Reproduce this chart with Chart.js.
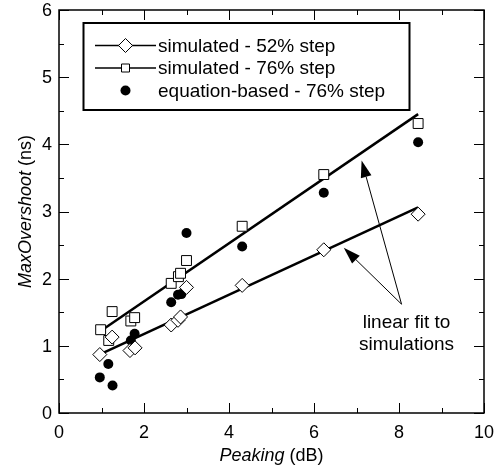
<!DOCTYPE html>
<html>
<head>
<meta charset="utf-8">
<script src="https://cdn.jsdelivr.net/npm/chart.js@4"></script>
<style>
    html, body { margin: 0; padding: 0; background: #fff; }
    #wrap { width: 494px; height: 473px; }
</style>
</head>
<body>
<div id="wrap"><canvas id="chart" width="494" height="473"></canvas></div>
<script>
// Datos
const peaking52 = [0.96, 1.25, 1.67, 1.79, 2.64, 2.80, 2.86, 3.00, 4.31, 6.23, 8.45];
const overshoot52 = [0.87, 1.13, 0.93, 0.97, 1.31, 1.38, 1.43, 1.87, 1.90, 2.43, 2.96];

const peaking76 = [0.98, 1.17, 1.25, 1.69, 1.78, 2.64, 2.81, 2.86, 3.00, 4.31, 6.23, 8.45];
const overshoot76 = [1.24, 1.08, 1.51, 1.37, 1.42, 1.93, 2.03, 2.08, 2.27, 2.78, 3.55, 4.31];

const peakingEq = [0.96, 1.16, 1.26, 1.69, 1.78, 2.64, 2.80, 2.88, 3.00, 4.31, 6.23, 8.45];
const overshootEq = [0.53, 0.73, 0.41, 1.08, 1.18, 1.65, 1.76, 1.77, 2.68, 2.48, 3.28, 4.03];

// Rectas de ajuste (extremos leidos)
const fit52X = [1.00, 8.45];
const fit52Y = [0.885, 3.06];
const fit76X = [0.98, 8.45];
const fit76Y = [1.22, 4.45];

const xTicks = [0, 2, 4, 6, 8, 10];
const yTicks = [0, 1, 2, 3, 4, 5, 6];

const legendLabels = ['simulated - 52% step', 'simulated - 76% step', 'equation-based - 76% step'];
const noteLines = ['linear fit to', 'simulations'];
const arrowTail = [8.06, 1.62];
const arrowHeads = [[7.12, 3.76], [6.70, 2.46]];

const FONT = '"Liberation Sans", Arial, sans-serif';

function toPoints(xs, ys) {
    return xs.map((x, i) => ({ x: x, y: ys[i] }));
}

// Dibuja texto con partes en cursiva
function drawParts(ctx, parts, x, y, size) {
    let total = 0;
    parts.forEach(p => {
        ctx.font = (p.italic ? 'italic ' : '') + size + 'px ' + FONT;
        p.w = ctx.measureText(p.text).width;
        total += p.w;
    });
    let cx = x - total / 2;
    ctx.textAlign = 'left';
    parts.forEach(p => {
        ctx.font = (p.italic ? 'italic ' : '') + size + 'px ' + FONT;
        ctx.fillText(p.text, cx, y);
        cx += p.w;
    });
}

function drawArrow(ctx, x0, y0, x1, y1) {
    const ang = Math.atan2(y1 - y0, x1 - x0);
    const len = 17, half = 5.5;
    const bx = x1 - Math.cos(ang) * len;
    const by = y1 - Math.sin(ang) * len;
    ctx.lineWidth = 1;
    ctx.beginPath();
    ctx.moveTo(x0, y0);
    ctx.lineTo(bx, by);
    ctx.stroke();
    ctx.beginPath();
    ctx.moveTo(x1, y1);
    ctx.lineTo(bx + Math.sin(ang) * half, by - Math.cos(ang) * half);
    ctx.lineTo(bx - Math.sin(ang) * half, by + Math.cos(ang) * half);
    ctx.closePath();
    ctx.fill();
}

const decoPlugin = {
    id: 'deco',
    afterDraw(chart) {
        const ctx = chart.ctx;
        const area = chart.chartArea;
        const xs = chart.scales.x;
        const ys = chart.scales.y;
        ctx.save();
        ctx.fillStyle = '#000';
        ctx.strokeStyle = '#000';

        // marco
        ctx.lineWidth = 1.5;
        ctx.strokeRect(area.left, area.top, area.right - area.left, area.bottom - area.top);

        // marcas hacia dentro
        ctx.lineWidth = 1;
        ctx.beginPath();
        for (let v = 0; v <= 10; v++) {
            const px = Math.round(xs.getPixelForValue(v)) + 0.5;
            const l = v % 2 === 0 ? 10 : 5;
            ctx.moveTo(px, area.bottom); ctx.lineTo(px, area.bottom - l);
            ctx.moveTo(px, area.top); ctx.lineTo(px, area.top + l);
        }
        for (let v = 0; v <= 6; v += 0.5) {
            const py = Math.round(ys.getPixelForValue(v)) + 0.5;
            const l = Number.isInteger(v) ? 10 : 5;
            ctx.moveTo(area.left, py); ctx.lineTo(area.left + l, py);
            ctx.moveTo(area.right, py); ctx.lineTo(area.right - l, py);
        }
        ctx.stroke();

        // etiquetas de los ejes
        ctx.font = '18px ' + FONT;
        ctx.textAlign = 'center';
        ctx.textBaseline = 'alphabetic';
        xTicks.forEach(v => ctx.fillText(String(v), xs.getPixelForValue(v), area.bottom + 25));
        ctx.textAlign = 'right';
        ctx.textBaseline = 'middle';
        yTicks.forEach(v => ctx.fillText(String(v), area.left - 7, ys.getPixelForValue(v) + 1));

        // titulos
        ctx.textBaseline = 'alphabetic';
        drawParts(ctx, [{ text: 'Peaking', italic: true }, { text: ' (dB)' }], (area.left + area.right) / 2, 461, 18);
        ctx.save();
        ctx.translate(31, (area.top + area.bottom) / 2);
        ctx.rotate(-Math.PI / 2);
        drawParts(ctx, [{ text: 'MaxOvershoot', italic: true }, { text: ' (ns)' }], 0, 0, 18);
        ctx.restore();

        // leyenda
        ctx.lineWidth = 2;
        ctx.strokeRect(83.5, 23, 326, 87);
        const rows = [45.5, 68, 90.5];
        ctx.font = '19px ' + FONT;
        ctx.textAlign = 'left';
        ctx.textBaseline = 'middle';
        rows.forEach((ry, i) => {
            if (i < 2) {
                ctx.lineWidth = 1.5;
                ctx.beginPath();
                ctx.moveTo(95, ry); ctx.lineTo(156, ry);
                ctx.stroke();
            }
            ctx.lineWidth = 1;
            ctx.beginPath();
            if (i === 0) {
                ctx.moveTo(118.5, ry); ctx.lineTo(125.5, ry - 7); ctx.lineTo(132.5, ry); ctx.lineTo(125.5, ry + 7);
                ctx.closePath();
                ctx.fillStyle = '#fff'; ctx.fill(); ctx.stroke();
            } else if (i === 1) {
                ctx.rect(121.5, ry - 4, 8, 8);
                ctx.fillStyle = '#fff'; ctx.fill(); ctx.stroke();
            } else {
                ctx.arc(125.5, ry, 5, 0, Math.PI * 2);
                ctx.fillStyle = '#000'; ctx.fill();
            }
            ctx.fillStyle = '#000';
            ctx.fillText(legendLabels[i], 158, ry + 1);
        });

        // flechas y nota
        const tx = xs.getPixelForValue(arrowTail[0]);
        const ty = ys.getPixelForValue(arrowTail[1]);
        arrowHeads.forEach(h => drawArrow(ctx, tx, ty, xs.getPixelForValue(h[0]), ys.getPixelForValue(h[1])));
        ctx.font = '19px ' + FONT;
        ctx.textAlign = 'center';
        ctx.textBaseline = 'alphabetic';
        ctx.fillText(noteLines[0], 406.5, 327.5);
        ctx.fillText(noteLines[1], 406.5, 349.5);
        ctx.restore();
    }
};

const ctx = document.getElementById('chart').getContext('2d');
new Chart(ctx, {
    type: 'scatter',
    data: {
        datasets: [
            {
                type: 'line',
                data: toPoints(fit76X, fit76Y),
                borderColor: '#000',
                borderWidth: 2.5,
                pointRadius: 0,
                showLine: true,
                order: 5
            },
            {
                type: 'line',
                data: toPoints(fit52X, fit52Y),
                borderColor: '#000',
                borderWidth: 2.5,
                pointRadius: 0,
                showLine: true,
                order: 5
            },
            {
                label: legendLabels[0],
                data: toPoints(peaking52, overshoot52),
                pointStyle: 'rectRot',
                pointRadius: 7,
                backgroundColor: '#fff',
                borderColor: '#000',
                borderWidth: 1,
                order: 1
            },
            {
                label: legendLabels[1],
                data: toPoints(peaking76, overshoot76),
                pointStyle: 'rect',
                pointRadius: 7,
                backgroundColor: '#fff',
                borderColor: '#000',
                borderWidth: 1,
                order: 2
            },
            {
                label: legendLabels[2],
                data: toPoints(peakingEq, overshootEq),
                pointStyle: 'circle',
                pointRadius: 5,
                backgroundColor: '#000',
                borderColor: '#000',
                borderWidth: 0,
                order: 3
            }
        ]
    },
    options: {
        responsive: false,
        animation: false,
        layout: { padding: { left: 59, right: 10, top: 10, bottom: 60 } },
        plugins: { legend: { display: false }, tooltip: { enabled: false } },
        scales: {
            x: {
                type: 'linear', min: 0, max: 10,
                ticks: { display: false, stepSize: 2 },
                grid: { display: false, drawTicks: false },
                border: { display: false },
                afterFit: s => { s.height = 0; }
            },
            y: {
                type: 'linear', min: 0, max: 6,
                ticks: { display: false, stepSize: 1 },
                grid: { display: false, drawTicks: false },
                border: { display: false },
                afterFit: s => { s.width = 0; }
            }
        }
    },
    plugins: [decoPlugin]
});
</script>
</body>
</html>
